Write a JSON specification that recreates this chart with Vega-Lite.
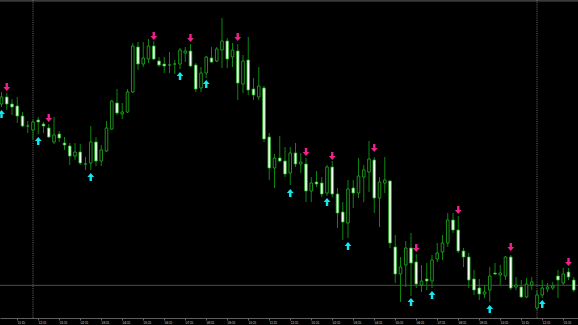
{
  "$schema": "https://vega.github.io/schema/vega-lite/v6.json",
  "width": 578,
  "height": 318,
  "autosize": {"type": "none"},
  "padding": {"left": 0, "top": 0, "right": 0, "bottom": 7},
  "background": "#000000",
  "config": {"view": {"stroke": null}, "axis": {"labelOverlap": false}, "axisX": {"labelOverlap": false}, "scale": {"continuousPadding": 0}},
  "datasets": {
    "candles": [
      {"t": "2020-01-05T22:30Z", "o": 214, "h": 226, "l": 211, "c": 221},
      {"t": "2020-01-05T22:45Z", "o": 221, "h": 225, "l": 208, "c": 214},
      {"t": "2020-01-05T23:00Z", "o": 214, "h": 219, "l": 203, "c": 211},
      {"t": "2020-01-05T23:15Z", "o": 212, "h": 221, "l": 195, "c": 202},
      {"t": "2020-01-05T23:30Z", "o": 202, "h": 206, "l": 191, "c": 192},
      {"t": "2020-01-05T23:45Z", "o": 192, "h": 197, "l": 185, "c": 192},
      {"t": "2020-01-06T00:00Z", "o": 188, "h": 198, "l": 178, "c": 196},
      {"t": "2020-01-06T00:15Z", "o": 198, "h": 201, "l": 184, "c": 196},
      {"t": "2020-01-06T00:30Z", "o": 194, "h": 196, "l": 185, "c": 192},
      {"t": "2020-01-06T00:45Z", "o": 190, "h": 194, "l": 180, "c": 181},
      {"t": "2020-01-06T01:00Z", "o": 176, "h": 201, "l": 174, "c": 183},
      {"t": "2020-01-06T01:15Z", "o": 184, "h": 187, "l": 176, "c": 180},
      {"t": "2020-01-06T01:30Z", "o": 175, "h": 181, "l": 168, "c": 173},
      {"t": "2020-01-06T01:45Z", "o": 172, "h": 175, "l": 153, "c": 162},
      {"t": "2020-01-06T02:00Z", "o": 162, "h": 175, "l": 158, "c": 166},
      {"t": "2020-01-06T02:15Z", "o": 166, "h": 174, "l": 153, "c": 155},
      {"t": "2020-01-06T02:30Z", "o": 154, "h": 161, "l": 148, "c": 154},
      {"t": "2020-01-06T02:45Z", "o": 155, "h": 192, "l": 148, "c": 176},
      {"t": "2020-01-06T03:00Z", "o": 176, "h": 181, "l": 152, "c": 157},
      {"t": "2020-01-06T03:15Z", "o": 157, "h": 173, "l": 152, "c": 168},
      {"t": "2020-01-06T03:30Z", "o": 167, "h": 197, "l": 166, "c": 190},
      {"t": "2020-01-06T03:45Z", "o": 189, "h": 218, "l": 188, "c": 217},
      {"t": "2020-01-06T04:00Z", "o": 215, "h": 229, "l": 203, "c": 205},
      {"t": "2020-01-06T04:15Z", "o": 204, "h": 215, "l": 199, "c": 206},
      {"t": "2020-01-06T04:30Z", "o": 206, "h": 229, "l": 205, "c": 226},
      {"t": "2020-01-06T04:45Z", "o": 226, "h": 275, "l": 225, "c": 272},
      {"t": "2020-01-06T05:00Z", "o": 271, "h": 276, "l": 248, "c": 254},
      {"t": "2020-01-06T05:15Z", "o": 254, "h": 276, "l": 251, "c": 260},
      {"t": "2020-01-06T05:30Z", "o": 259, "h": 279, "l": 255, "c": 272},
      {"t": "2020-01-06T05:45Z", "o": 272, "h": 277, "l": 258, "c": 259},
      {"t": "2020-01-06T06:00Z", "o": 257, "h": 261, "l": 251, "c": 253},
      {"t": "2020-01-06T06:15Z", "o": 254, "h": 261, "l": 245, "c": 252},
      {"t": "2020-01-06T06:30Z", "o": 253, "h": 266, "l": 245, "c": 253},
      {"t": "2020-01-06T06:45Z", "o": 254, "h": 258, "l": 244, "c": 254},
      {"t": "2020-01-06T07:00Z", "o": 254, "h": 270, "l": 249, "c": 268},
      {"t": "2020-01-06T07:15Z", "o": 265, "h": 271, "l": 256, "c": 267},
      {"t": "2020-01-06T07:30Z", "o": 267, "h": 274, "l": 251, "c": 252},
      {"t": "2020-01-06T07:45Z", "o": 253, "h": 255, "l": 226, "c": 229},
      {"t": "2020-01-06T08:00Z", "o": 230, "h": 251, "l": 226, "c": 245},
      {"t": "2020-01-06T08:15Z", "o": 245, "h": 262, "l": 240, "c": 261},
      {"t": "2020-01-06T08:30Z", "o": 260, "h": 271, "l": 255, "c": 256},
      {"t": "2020-01-06T08:45Z", "o": 257, "h": 271, "l": 256, "c": 269},
      {"t": "2020-01-06T09:00Z", "o": 268, "h": 300, "l": 250, "c": 277},
      {"t": "2020-01-06T09:15Z", "o": 277, "h": 280, "l": 250, "c": 259},
      {"t": "2020-01-06T09:30Z", "o": 261, "h": 275, "l": 251, "c": 268},
      {"t": "2020-01-06T09:45Z", "o": 267, "h": 274, "l": 218, "c": 235},
      {"t": "2020-01-06T10:00Z", "o": 234, "h": 263, "l": 225, "c": 257},
      {"t": "2020-01-06T10:15Z", "o": 258, "h": 281, "l": 223, "c": 228},
      {"t": "2020-01-06T10:30Z", "o": 229, "h": 240, "l": 218, "c": 223},
      {"t": "2020-01-06T10:45Z", "o": 221, "h": 251, "l": 218, "c": 232},
      {"t": "2020-01-06T11:00Z", "o": 230, "h": 232, "l": 176, "c": 179},
      {"t": "2020-01-06T11:15Z", "o": 181, "h": 185, "l": 138, "c": 150},
      {"t": "2020-01-06T11:30Z", "o": 150, "h": 164, "l": 130, "c": 160},
      {"t": "2020-01-06T11:45Z", "o": 160, "h": 182, "l": 156, "c": 157},
      {"t": "2020-01-06T12:00Z", "o": 157, "h": 171, "l": 141, "c": 144},
      {"t": "2020-01-06T12:15Z", "o": 145, "h": 171, "l": 133, "c": 165},
      {"t": "2020-01-06T12:30Z", "o": 165, "h": 175, "l": 151, "c": 154},
      {"t": "2020-01-06T12:45Z", "o": 154, "h": 165, "l": 145, "c": 156},
      {"t": "2020-01-06T13:00Z", "o": 154, "h": 160, "l": 116, "c": 127},
      {"t": "2020-01-06T13:15Z", "o": 127, "h": 141, "l": 116, "c": 135},
      {"t": "2020-01-06T13:30Z", "o": 136, "h": 147, "l": 131, "c": 134},
      {"t": "2020-01-06T13:45Z", "o": 135, "h": 141, "l": 121, "c": 124},
      {"t": "2020-01-06T14:00Z", "o": 125, "h": 153, "l": 122, "c": 151},
      {"t": "2020-01-06T14:15Z", "o": 151, "h": 157, "l": 121, "c": 124},
      {"t": "2020-01-06T14:30Z", "o": 124, "h": 130, "l": 90, "c": 105},
      {"t": "2020-01-06T14:45Z", "o": 106, "h": 116, "l": 78, "c": 96},
      {"t": "2020-01-06T15:00Z", "o": 95, "h": 138, "l": 80, "c": 129},
      {"t": "2020-01-06T15:15Z", "o": 130, "h": 138, "l": 110, "c": 125},
      {"t": "2020-01-06T15:30Z", "o": 125, "h": 160, "l": 120, "c": 142},
      {"t": "2020-01-06T15:45Z", "o": 141, "h": 153, "l": 116, "c": 148},
      {"t": "2020-01-06T16:00Z", "o": 146, "h": 177, "l": 126, "c": 159},
      {"t": "2020-01-06T16:15Z", "o": 158, "h": 161, "l": 105, "c": 120},
      {"t": "2020-01-06T16:30Z", "o": 120, "h": 141, "l": 91, "c": 136},
      {"t": "2020-01-06T16:45Z", "o": 135, "h": 161, "l": 125, "c": 138},
      {"t": "2020-01-06T17:00Z", "o": 137, "h": 138, "l": 70, "c": 75},
      {"t": "2020-01-06T17:15Z", "o": 71, "h": 83, "l": 35, "c": 44},
      {"t": "2020-01-06T17:30Z", "o": 44, "h": 61, "l": 16, "c": 51},
      {"t": "2020-01-06T17:45Z", "o": 53, "h": 77, "l": 31, "c": 70},
      {"t": "2020-01-06T18:00Z", "o": 70, "h": 85, "l": 22, "c": 55},
      {"t": "2020-01-06T18:15Z", "o": 56, "h": 64, "l": 30, "c": 34},
      {"t": "2020-01-06T18:30Z", "o": 33, "h": 53, "l": 26, "c": 37},
      {"t": "2020-01-06T18:45Z", "o": 39, "h": 55, "l": 28, "c": 37},
      {"t": "2020-01-06T19:00Z", "o": 37, "h": 63, "l": 30, "c": 58},
      {"t": "2020-01-06T19:15Z", "o": 59, "h": 75, "l": 56, "c": 65},
      {"t": "2020-01-06T19:30Z", "o": 66, "h": 83, "l": 58, "c": 75},
      {"t": "2020-01-06T19:45Z", "o": 75, "h": 105, "l": 71, "c": 98},
      {"t": "2020-01-06T20:00Z", "o": 98, "h": 105, "l": 85, "c": 88},
      {"t": "2020-01-06T20:15Z", "o": 88, "h": 102, "l": 65, "c": 67},
      {"t": "2020-01-06T20:30Z", "o": 67, "h": 70, "l": 51, "c": 61},
      {"t": "2020-01-06T20:45Z", "o": 61, "h": 65, "l": 30, "c": 38},
      {"t": "2020-01-06T21:00Z", "o": 39, "h": 48, "l": 23, "c": 28},
      {"t": "2020-01-06T21:15Z", "o": 30, "h": 39, "l": 18, "c": 24},
      {"t": "2020-01-06T21:30Z", "o": 24, "h": 33, "l": 20, "c": 26},
      {"t": "2020-01-06T21:45Z", "o": 28, "h": 51, "l": 16, "c": 42},
      {"t": "2020-01-06T22:00Z", "o": 45, "h": 55, "l": 43, "c": 44},
      {"t": "2020-01-06T22:15Z", "o": 43, "h": 53, "l": 33, "c": 45},
      {"t": "2020-01-06T22:30Z", "o": 42, "h": 62, "l": 38, "c": 61},
      {"t": "2020-01-06T22:45Z", "o": 61, "h": 63, "l": 28, "c": 30},
      {"t": "2020-01-06T23:00Z", "o": 31, "h": 41, "l": 28, "c": 33},
      {"t": "2020-01-06T23:15Z", "o": 31, "h": 38, "l": 20, "c": 21},
      {"t": "2020-01-06T23:30Z", "o": 21, "h": 40, "l": 20, "c": 34},
      {"t": "2020-01-06T23:45Z", "o": 33, "h": 41, "l": 28, "c": 36},
      {"t": "2020-01-07T00:00Z", "o": 10, "h": 28, "l": 8, "c": 23},
      {"t": "2020-01-07T00:15Z", "o": 23, "h": 38, "l": 20, "c": 30},
      {"t": "2020-01-07T00:30Z", "o": 29, "h": 35, "l": 26, "c": 31},
      {"t": "2020-01-07T00:45Z", "o": 30, "h": 36, "l": 28, "c": 32},
      {"t": "2020-01-07T01:00Z", "o": 42, "h": 48, "l": 20, "c": 38},
      {"t": "2020-01-07T01:15Z", "o": 35, "h": 50, "l": 33, "c": 44},
      {"t": "2020-01-07T01:30Z", "o": 46, "h": 50, "l": 38, "c": 41},
      {"t": "2020-01-07T01:45Z", "o": 38, "h": 41, "l": 26, "c": 28}
    ],
    "signals": [
      {"t": "2020-01-05T22:45Z", "v": 231, "kind": "down"},
      {"t": "2020-01-06T00:45Z", "v": 200, "kind": "down"},
      {"t": "2020-01-06T05:45Z", "v": 282, "kind": "down"},
      {"t": "2020-01-06T07:30Z", "v": 280, "kind": "down"},
      {"t": "2020-01-06T09:45Z", "v": 281, "kind": "down"},
      {"t": "2020-01-06T13:00Z", "v": 166, "kind": "down"},
      {"t": "2020-01-06T14:15Z", "v": 162, "kind": "down"},
      {"t": "2020-01-06T16:15Z", "v": 170, "kind": "down"},
      {"t": "2020-01-06T18:15Z", "v": 70, "kind": "down"},
      {"t": "2020-01-06T20:15Z", "v": 108, "kind": "down"},
      {"t": "2020-01-06T22:45Z", "v": 71, "kind": "down"},
      {"t": "2020-01-07T01:30Z", "v": 56, "kind": "down"},
      {"t": "2020-01-05T22:30Z", "v": 204, "kind": "up"},
      {"t": "2020-01-06T00:15Z", "v": 177, "kind": "up"},
      {"t": "2020-01-06T02:45Z", "v": 141, "kind": "up"},
      {"t": "2020-01-06T07:00Z", "v": 242, "kind": "up"},
      {"t": "2020-01-06T08:15Z", "v": 234, "kind": "up"},
      {"t": "2020-01-06T12:15Z", "v": 125, "kind": "up"},
      {"t": "2020-01-06T14:00Z", "v": 116, "kind": "up"},
      {"t": "2020-01-06T15:00Z", "v": 72, "kind": "up"},
      {"t": "2020-01-06T18:00Z", "v": 16, "kind": "up"},
      {"t": "2020-01-06T19:00Z", "v": 23, "kind": "up"},
      {"t": "2020-01-06T21:45Z", "v": 9, "kind": "up"},
      {"t": "2020-01-07T00:15Z", "v": 14, "kind": "up"}
    ],
    "separators": [
      {"t": "2020-01-06T00:00Z"},
      {"t": "2020-01-07T00:00Z"}
    ],
    "levels": [{"price": 32.7}],
    "frame": [{"price": 318}]
  },
  "layer": [
    {
      "data": {"name": "frame"},
      "mark": {"type": "rule", "color": "#3a3a3a", "strokeWidth": 3.4},
      "encoding": {
        "y": {"field": "price", "type": "quantitative", "scale": {"domain": [0, 318], "nice": false, "zero": false}, "axis": null}
      }
    },
    {
      "data": {"name": "levels"},
      "mark": {"type": "rule", "color": "#4e4e4e", "strokeWidth": 1},
      "encoding": {
        "y": {"field": "price", "type": "quantitative", "scale": {"domain": [0, 318], "nice": false, "zero": false}, "axis": null}
      }
    },
    {
      "data": {"name": "separators"},
      "mark": {"type": "rule", "color": "#6e6e6e", "strokeWidth": 1, "strokeDash": [1, 1.2]},
      "encoding": {
        "x": {"field": "t", "type": "temporal", "scale": {"type": "utc", "domain": [1578263142857, 1578362228571], "nice": false, "padding": 0},
          "axis": {"values": [1578266100000, 1578269700000, 1578273300000, 1578276900000, 1578280500000, 1578284100000, 1578287700000, 1578291300000, 1578294900000, 1578298500000, 1578302100000, 1578305700000, 1578309300000, 1578312900000, 1578316500000, 1578320100000, 1578323700000, 1578327300000, 1578330900000, 1578334500000, 1578338100000, 1578341700000, 1578345300000, 1578348900000, 1578352500000, 1578356100000, 1578359700000],
            "format": "%-d %b %H:%M", "formatType": "utc", "labelAlign": "left", "labelBaseline": "top", "labelFontSize": 3, "labelFont": "Liberation Sans Narrow, Liberation Sans, sans-serif", "labelColor": "#d8d8d8", "labelPadding": 1.2, "labelOverlap": false, "labelFlush": false, "labelBound": false, "ticks": true, "tickSize": 2, "tickColor": "#6a6a6a", "domainColor": "#5e5e5e", "domainWidth": 1, "grid": false, "title": null}}
      }
    },
    {
      "data": {"name": "candles"},
      "mark": {"type": "rule", "color": "#0c860c", "strokeWidth": 1},
      "encoding": {
        "x": {"field": "t", "type": "temporal", "scale": {"type": "utc", "domain": [1578263142857, 1578362228571], "nice": false, "padding": 0},
          "axis": {"values": [1578266100000, 1578269700000, 1578273300000, 1578276900000, 1578280500000, 1578284100000, 1578287700000, 1578291300000, 1578294900000, 1578298500000, 1578302100000, 1578305700000, 1578309300000, 1578312900000, 1578316500000, 1578320100000, 1578323700000, 1578327300000, 1578330900000, 1578334500000, 1578338100000, 1578341700000, 1578345300000, 1578348900000, 1578352500000, 1578356100000, 1578359700000],
            "format": "%-d %b %H:%M", "formatType": "utc", "labelAlign": "left", "labelBaseline": "top", "labelFontSize": 3, "labelFont": "Liberation Sans Narrow, Liberation Sans, sans-serif", "labelColor": "#d8d8d8", "labelPadding": 1.2, "labelOverlap": false, "labelFlush": false, "labelBound": false, "ticks": true, "tickSize": 2, "tickColor": "#6a6a6a", "domainColor": "#5e5e5e", "domainWidth": 1, "grid": false, "title": null}},
        "y": {"field": "l", "type": "quantitative", "scale": {"domain": [0, 318], "nice": false, "zero": false}, "axis": null},
        "y2": {"field": "h"}
      }
    },
    {
      "data": {"name": "candles"},
      "mark": {"type": "bar", "size": 2.6, "stroke": "#22b422", "strokeWidth": 0.8},
      "encoding": {
        "x": {"field": "t", "type": "temporal", "scale": {"type": "utc", "domain": [1578263142857, 1578362228571], "nice": false, "padding": 0},
          "axis": {"values": [1578266100000, 1578269700000, 1578273300000, 1578276900000, 1578280500000, 1578284100000, 1578287700000, 1578291300000, 1578294900000, 1578298500000, 1578302100000, 1578305700000, 1578309300000, 1578312900000, 1578316500000, 1578320100000, 1578323700000, 1578327300000, 1578330900000, 1578334500000, 1578338100000, 1578341700000, 1578345300000, 1578348900000, 1578352500000, 1578356100000, 1578359700000],
            "format": "%-d %b %H:%M", "formatType": "utc", "labelAlign": "left", "labelBaseline": "top", "labelFontSize": 3, "labelFont": "Liberation Sans Narrow, Liberation Sans, sans-serif", "labelColor": "#d8d8d8", "labelPadding": 1.2, "labelOverlap": false, "labelFlush": false, "labelBound": false, "ticks": true, "tickSize": 2, "tickColor": "#6a6a6a", "domainColor": "#5e5e5e", "domainWidth": 1, "grid": false, "title": null}},
        "y": {"field": "o", "type": "quantitative", "scale": {"domain": [0, 318], "nice": false, "zero": false}, "axis": null},
        "y2": {"field": "c"},
        "fill": {"condition": {"test": "datum.c > datum.o", "value": "#000000"}, "value": "#f6fff6"}
      }
    },
    {
      "data": {"name": "signals"},
      "mark": {"type": "point", "filled": true, "size": 64, "opacity": 1, "strokeWidth": 0},
      "encoding": {
        "x": {"field": "t", "type": "temporal", "scale": {"type": "utc", "domain": [1578263142857, 1578362228571], "nice": false, "padding": 0},
          "axis": {"values": [1578266100000, 1578269700000, 1578273300000, 1578276900000, 1578280500000, 1578284100000, 1578287700000, 1578291300000, 1578294900000, 1578298500000, 1578302100000, 1578305700000, 1578309300000, 1578312900000, 1578316500000, 1578320100000, 1578323700000, 1578327300000, 1578330900000, 1578334500000, 1578338100000, 1578341700000, 1578345300000, 1578348900000, 1578352500000, 1578356100000, 1578359700000],
            "format": "%-d %b %H:%M", "formatType": "utc", "labelAlign": "left", "labelBaseline": "top", "labelFontSize": 3, "labelFont": "Liberation Sans Narrow, Liberation Sans, sans-serif", "labelColor": "#d8d8d8", "labelPadding": 1.2, "labelOverlap": false, "labelFlush": false, "labelBound": false, "ticks": true, "tickSize": 2, "tickColor": "#6a6a6a", "domainColor": "#5e5e5e", "domainWidth": 1, "grid": false, "title": null}},
        "y": {"field": "v", "type": "quantitative", "scale": {"domain": [0, 318], "nice": false, "zero": false}, "axis": null},
        "shape": {"field": "kind", "type": "nominal", "legend": null,
          "scale": {"domain": ["down", "up"], "range": ["M-0.3,-1L0.3,-1L0.3,0L0.85,0L0,1L-0.85,0L-0.3,0Z", "M-0.3,1L0.3,1L0.3,0L0.85,0L0,-1L-0.85,0L-0.3,0Z"]}},
        "color": {"field": "kind", "type": "nominal", "legend": null,
          "scale": {"domain": ["down", "up"], "range": ["#f0208c", "#12e8f2"]}}
      }
    }
  ]
}
